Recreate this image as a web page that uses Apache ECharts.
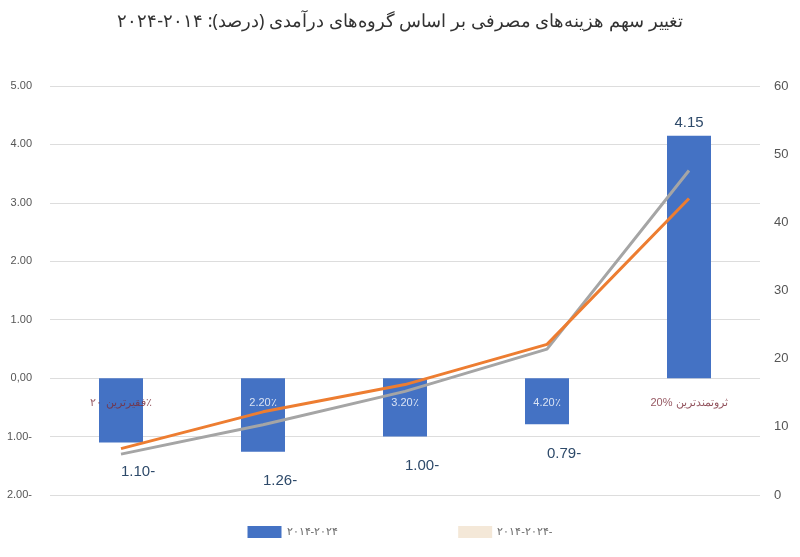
<!DOCTYPE html>
<html><head><meta charset="utf-8">
<script src="https://cdn.jsdelivr.net/npm/echarts@6/dist/echarts.min.js"></script>
<style>html,body{margin:0;background:#fff}#c{width:800px;height:557px}</style>
</head><body><div id="c"></div>
<script>
const categories = ['g1', 'g2', 'g3', 'g4', 'g5'];
const barValues = [-1.10, -1.26, -1.00, -0.79, 4.15];
const orangeLine = [6.8, 12.2, 16.2, 22.1, 43.5];
const grayLine = [6.0, 10.3, 15.2, 21.4, 47.6];
const groupLabels = ['فقیرترین ۲۰٪', '2.20٪', '3.20٪', '4.20٪', '20% ثروتمندترین'];
const labelLevel = -0.43;

const chart = echarts.init(document.getElementById('c'));
const fmtLeft = v => v === 0 ? '0,00' : (v < 0 ? Math.abs(v).toFixed(2) + '-' : v.toFixed(2));

chart.setOption({
  title: {
    text: 'تغییر سهم هزینه‌های مصرفی بر اساس گروه‌های درآمدی (درصد): ۲۰۱۴-۲۰۲۴',
    left: 'center', top: 8,
    textStyle: { fontFamily: 'Noto Sans', fontSize: 18, fontWeight: 'normal', color: '#333' }
  },
  legend: {
    bottom: 14, left: 'center', itemGap: 120, itemWidth: 34, itemHeight: 12,
    textStyle: { color: '#666', fontSize: 11 },
    data: [
      { name: '۲۰۱۴-۲۰۲۴', icon: 'rect' },
      { name: '۲۰۱۴-۲۰۲۴-', icon: 'rect', itemStyle: { color: '#f4e8d8' } }
    ]
  },
  grid: { left: 50, right: 40, top: 86, bottom: 62 },
  xAxis: {
    type: 'category', data: categories,
    axisLine: { show: false }, axisTick: { show: false }, axisLabel: { show: false }
  },
  yAxis: [
    {
      type: 'value', min: -2, max: 5, interval: 1,
      axisLabel: { formatter: fmtLeft, color: '#555', fontSize: 11, margin: 18 },
      splitLine: { lineStyle: { color: '#ddd' } }
    },
    {
      type: 'value', min: 0, max: 60, interval: 10,
      axisLabel: { color: '#555', fontSize: 13, margin: 14 },
      splitLine: { show: false }
    }
  ],
  series: [
    {
      name: '۲۰۱۴-۲۰۲۴', type: 'bar', data: barValues, barWidth: 44,
      itemStyle: { color: '#4472c4' },
      label: {
        show: true, position: 'top', fontSize: 15, color: '#2e4a6a',
        formatter: p => p.value < 0 ? Math.abs(p.value).toFixed(2) + '-' : p.value.toFixed(2)
      },
      labelLayout: p => p.rect.height && barValues[p.dataIndex] < 0 ? { y: p.rect.y + p.rect.height + 22 } : {}
    },
    {
      type: 'scatter', symbolSize: 0, silent: true,
      data: groupLabels.map(() => labelLevel),
      label: {
        show: true, position: 'inside', fontSize: 11,
        formatter: p => groupLabels[p.dataIndex],
        color: p => '#fff'
      }
    },
    {
      name: '۲۰۱۴-۲۰۲۴-', type: 'line', yAxisIndex: 1, data: grayLine,
      symbol: 'none', lineStyle: { color: '#a5a5a5', width: 3 }
    },
    {
      type: 'line', yAxisIndex: 1, data: orangeLine,
      symbol: 'none', lineStyle: { color: '#ed7d31', width: 3 }
    }
  ]
});
chart.setOption({
  series: [{}, {
    label: {
      rich: {},
      color: '#fff'
    },
    data: groupLabels.map((t, i) => ({
      value: labelLevel,
      label: (i === 0 || i === 4) ? { color: '#7b2d3a' } : {}
    }))
  }]
});
</script></body></html>
